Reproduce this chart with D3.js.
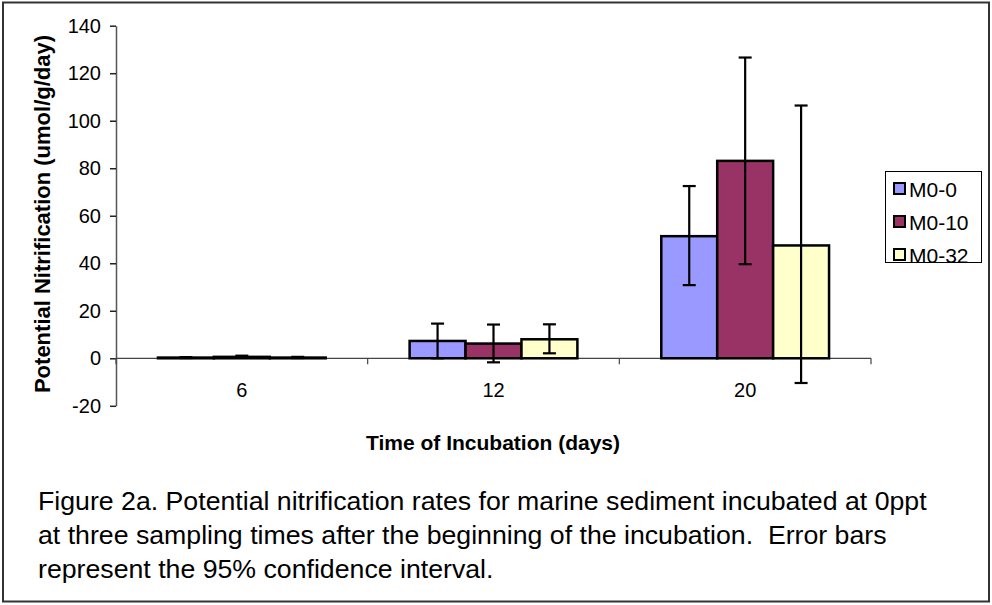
<!DOCTYPE html>
<html><head><meta charset="utf-8">
<script src="https://cdn.jsdelivr.net/npm/d3@7"></script>
<style>body{margin:0;background:#fff}svg{display:block}text{font-family:"Liberation Sans",Arial,sans-serif}</style>
</head><body>
<script>
const categories = ["6", "12", "20"];
const seriesNames = ["M0-0", "M0-10", "M0-32"];
const seriesColors = ["#9999FF", "#993366", "#FFFFCC"];
const valuesM00 = [0.3, 7.3, 51.4];
const valuesM010 = [0.6, 6.2, 83.1];
const valuesM032 = [0.3, 8.0, 47.5];
const errLowM00 = [0.1, 0.0, 30.8];
const errHighM00 = [0.5, 14.6, 72.5];
const errLowM010 = [0.2, -1.7, 39.6];
const errHighM010 = [1.1, 14.2, 126.6];
const errLowM032 = [0.1, 2.1, -10.4];
const errHighM032 = [0.6, 14.3, 106.4];
const yTicks = [-20, 0, 20, 40, 60, 80, 100, 120, 140];
const captionLines = [
  "Figure 2a. Potential nitrification rates for marine sediment incubated at 0ppt",
  "at three sampling times after the beginning of the incubation.  Error bars",
  "represent the 95% confidence interval."
];

const values = [valuesM00, valuesM010, valuesM032];
const lows = [errLowM00, errLowM010, errLowM032];
const highs = [errHighM00, errHighM010, errHighM032];

const W = 992, H = 605;
const svg = d3.select("body").append("svg").attr("width", W).attr("height", H);

// outer frame
svg.append("rect").attr("x", 3).attr("y", 2.5).attr("width", 986).attr("height", 599)
  .attr("fill", "#fff").attr("stroke", "#333").attr("stroke-width", 2);

const plotLeft = 116, plotRight = 871, plotTop = 25.7, plotBottom = 405.8;
const y = d3.scaleLinear().domain([-20, 140]).range([plotBottom, plotTop]);
const x0 = d3.scaleBand().domain(categories).range([plotLeft, plotRight]).paddingInner(1/3).paddingOuter(1/6);
const x1 = d3.scaleBand().domain(seriesNames).range([0, x0.bandwidth()]).padding(0);

// y axis
const yAxis = d3.axisLeft(y).tickValues(yTicks).tickFormat(d => String(d)).tickSize(6).tickSizeOuter(0).tickPadding(9);
const gy = svg.append("g").attr("transform", `translate(${plotLeft},0)`).call(yAxis);
gy.select(".domain").attr("stroke", "#555").attr("stroke-width", 1.5);
gy.selectAll(".tick line").attr("stroke", "#222").attr("stroke-width", 1.5);
gy.selectAll(".tick text").attr("font-size", 20).attr("fill", "#000");

// x axis at zero
const xBoundaries = [plotLeft, ...categories.map(c => x0(c) - x0.step() * x0.paddingInner() / 2).slice(1), plotRight];
svg.append("line").attr("x1", plotLeft).attr("x2", plotRight).attr("y1", y(0)).attr("y2", y(0))
  .attr("stroke", "#444").attr("stroke-width", 1.2);
svg.selectAll(".xtick").data(xBoundaries).enter().append("line")
  .attr("x1", d => d).attr("x2", d => d).attr("y1", y(0)).attr("y2", y(0) + 6)
  .attr("stroke", "#444").attr("stroke-width", 1.2);
svg.selectAll(".xlab").data(categories).enter().append("text")
  .attr("x", d => x0(d) + x0.bandwidth() / 2).attr("y", 397)
  .attr("text-anchor", "middle").attr("font-size", 20).text(d => d);

// bars
const groups = svg.selectAll(".grp").data(categories).enter().append("g")
  .attr("transform", d => `translate(${x0(d)},0)`);
seriesNames.forEach((s, si) => {
  groups.append("rect")
    .attr("x", x1(s)).attr("width", x1.bandwidth())
    .attr("y", (d, i) => y(Math.max(0, values[si][i])))
    .attr("height", (d, i) => Math.abs(y(values[si][i]) - y(0)))
    .attr("fill", seriesColors[si]).attr("stroke", "#000").attr("stroke-width", 2.5);
});
// error bars
seriesNames.forEach((s, si) => {
  const cx = x1(s) + x1.bandwidth() / 2;
  groups.append("line").attr("x1", cx).attr("x2", cx)
    .attr("y1", (d, i) => y(lows[si][i])).attr("y2", (d, i) => y(highs[si][i]))
    .attr("stroke", "#000").attr("stroke-width", 2.2);
  [lows, highs].forEach(arr => {
    groups.append("line").attr("x1", cx - 6.5).attr("x2", cx + 6.5)
      .attr("y1", (d, i) => y(arr[si][i])).attr("y2", (d, i) => y(arr[si][i]))
      .attr("stroke", "#000").attr("stroke-width", 2.2);
  });
});

// axis titles
svg.append("text").attr("transform", `translate(50,214) rotate(-90)`)
  .attr("text-anchor", "middle").attr("font-size", 22).attr("font-weight", "bold")
  .text("Potential Nitrification (umol/g/day)");
svg.append("text").attr("x", 493).attr("y", 450).attr("text-anchor", "middle")
  .attr("font-size", 21).attr("font-weight", "bold").text("Time of Incubation (days)");

// legend
const lg = svg.append("g");
lg.append("rect").attr("x", 885.5).attr("y", 171.5).attr("width", 96).attr("height", 91)
  .attr("fill", "#fff").attr("stroke", "#000").attr("stroke-width", 1);
seriesNames.forEach((s, i) => {
  const cy = 189 + i * 33;
  lg.append("rect").attr("x", 894).attr("y", cy - 6).attr("width", 11).attr("height", 11)
    .attr("fill", seriesColors[i]).attr("stroke", "#000").attr("stroke-width", 2);
  lg.append("text").attr("x", 909).attr("y", cy + 7.5).attr("font-size", 21).text(s);
});

// caption
svg.selectAll(".cap").data(captionLines).enter().append("text")
  .attr("x", 38).attr("y", (d, i) => 510 + i * 34)
  .attr("font-size", 26.7).attr("xml:space", "preserve").style("white-space", "pre").text(d => d);
</script>
</body></html>
